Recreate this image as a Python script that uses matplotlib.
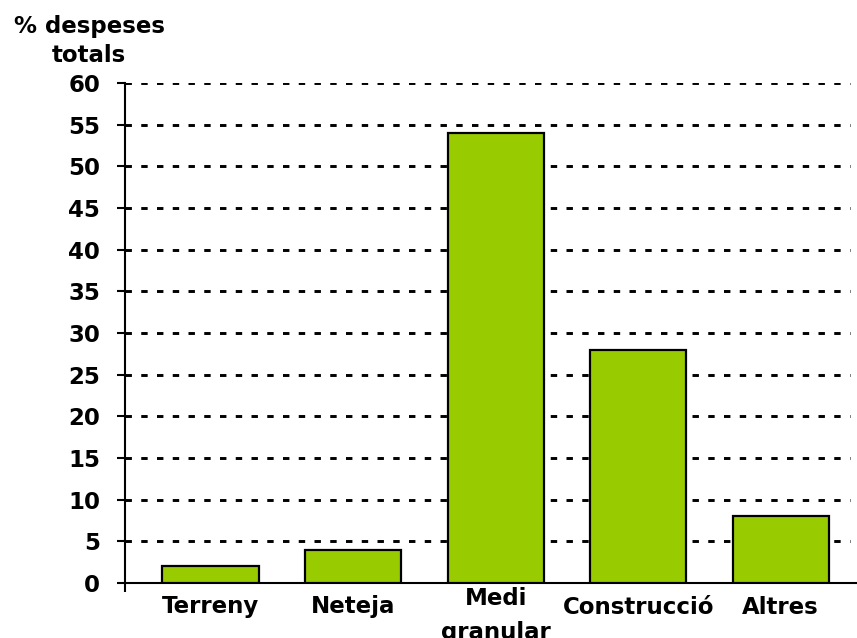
import matplotlib
matplotlib.use("Agg")
import matplotlib.pyplot as plt
from matplotlib import transforms

categories = ["Terreny", "Neteja", "Medi\ngranular", "Construcció", "Altres"]
values = [2, 4, 54, 28, 8]
yticks = [0, 5, 10, 15, 20, 25, 30, 35, 40, 45, 50, 55, 60]
ylabel_text = "% despeses\ntotals"

plt.rcParams['font.family'] = ['DejaVu Sans']
plt.rcParams['font.weight'] = 'bold'

FS = 16.5
W, H = 857, 638
fig = plt.figure(figsize=(W / 100, H / 100), dpi=100)
left, right, bottom, top = 125, 857, 638 - 583, 638 - 83
ax = fig.add_axes([left / W, bottom / H, (right - left) / W, (top - bottom) / H])

x = list(range(len(categories)))
ax.bar(x, values, width=0.674, color="#99CC00", edgecolor="black", linewidth=1.6, zorder=3)

xmin = -0.6
xmax_grid = 4.486
ax.set_xlim(xmin, 4.535)
ax.set_ylim(0, 60)

for yv in yticks[1:]:
    ax.plot([xmin, xmax_grid], [yv, yv], color="black", linewidth=2.1,
            linestyle=(0, (2.2, 3.2)), dash_capstyle='butt', zorder=1)

ax.spines['top'].set_visible(False)
ax.spines['right'].set_visible(False)
ax.spines['left'].set_linewidth(1.5)
ax.spines['bottom'].set_linewidth(1.5)
ax.plot([xmin, xmin], [0, -1.1], color="black", linewidth=1.5, clip_on=False, solid_capstyle='butt')

ax.set_yticks(yticks)
ax.set_yticklabels([str(v) for v in yticks], fontsize=FS, fontweight='bold')
ax.tick_params(axis='y', length=6, width=1.5, pad=12, direction='out')

ax.set_xticks(x)
ax.set_xticklabels([])
ax.tick_params(axis='x', length=0)

base = ax.get_xaxis_transform()
single_tr = transforms.offset_copy(base, fig=fig, y=-24, units='dots')
multi_tr = transforms.offset_copy(base, fig=fig, y=-4, units='dots')
for xi, lab in zip(x, categories):
    if "\n" in lab:
        ax.text(xi, 0, lab, transform=multi_tr, ha='center', va='top', fontsize=FS,
                fontweight='bold', linespacing=1.6, clip_on=False)
    else:
        ax.text(xi, 0, lab, transform=single_tr, ha='center', va='center', fontsize=FS,
                fontweight='bold', clip_on=False)

fig.text(89 / W, 1 - 41 / H, ylabel_text, ha='center', va='center', fontsize=FS,
         fontweight='bold', linespacing=1.35)

fig.savefig("out.png", dpi=100)
